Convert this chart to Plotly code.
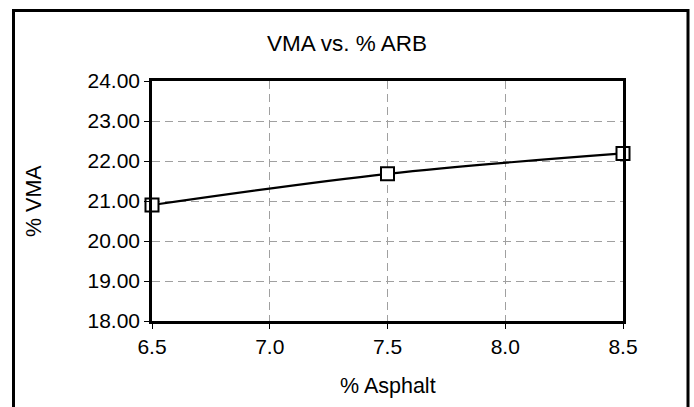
import plotly.graph_objects as go

asphalt = [6.5, 7.5, 8.5]
vma = [20.90, 21.68, 22.19]
x_ticks = [6.5, 7.0, 7.5, 8.0, 8.5]
y_ticks = [18, 19, 20, 21, 22, 23, 24]

W, H = 694, 407
L, R, T, B = 152, 623, 81, 321
pw, ph = R - L, B - T

FONT = "Arial, Liberation Sans, sans-serif"

fig = go.Figure()
fig.add_trace(go.Scatter(
    x=asphalt, y=vma, mode="lines+markers",
    line=dict(color="black", width=2.2, shape="spline"),
    marker=dict(symbol="square", size=13, color="white",
                line=dict(color="black", width=2)),
    cliponaxis=False, showlegend=False,
))

axis_common = dict(
    showline=True, linecolor="black", linewidth=2.5, mirror=True,
    ticks="outside", ticklen=5, tickcolor="black", tickwidth=1,
    showgrid=True, gridcolor="#a0a0a0", gridwidth=1, griddash="8px,5px",
    zeroline=False, tickfont=dict(family=FONT, size=21, color="black"),
)

fig.update_xaxes(range=[6.5, 8.5], tickvals=x_ticks,
                 ticktext=[f"{v:.1f}" for v in x_ticks], **axis_common)
fig.update_yaxes(range=[18, 24], tickvals=y_ticks,
                 ticktext=[f"{v:.2f}" for v in y_ticks], **axis_common)

def px_x(p):
    return (p - L) / pw

def px_y(p):
    return (B - p) / ph

fig.update_layout(
    width=W, height=H,
    margin=dict(l=L, r=W - R, t=T, b=H - B, pad=0),
    paper_bgcolor="white", plot_bgcolor="white",
    font=dict(family=FONT, color="black"),
    title=dict(text="VMA vs. % ARB", x=0.5, xref="container", xanchor="center",
               y=1 - 43 / H, yref="container", yanchor="middle",
               font=dict(family=FONT, size=22.5, color="black")),
    annotations=[
        dict(text="% Asphalt", xref="paper", yref="paper", x=0.5, y=px_y(386),
             xanchor="center", yanchor="middle", showarrow=False,
             font=dict(family=FONT, size=21.5, color="black")),
        dict(text="% VMA", xref="paper", yref="paper", x=px_x(34), y=0.5,
             xanchor="center", yanchor="middle", textangle=-90, showarrow=False,
             font=dict(family=FONT, size=21.5, color="black")),
    ],
    shapes=[
        dict(type="rect", xref="paper", yref="paper",
             x0=px_x(13.5), x1=px_x(688), y0=px_y(420), y1=px_y(10.5),
             line=dict(color="black", width=3), fillcolor="rgba(0,0,0,0)",
             layer="above"),
    ],
)

fig.write_html("out.html", config={"displayModeBar": False},
               post_script="document.body.style.margin='0';document.body.style.overflow='hidden';")
